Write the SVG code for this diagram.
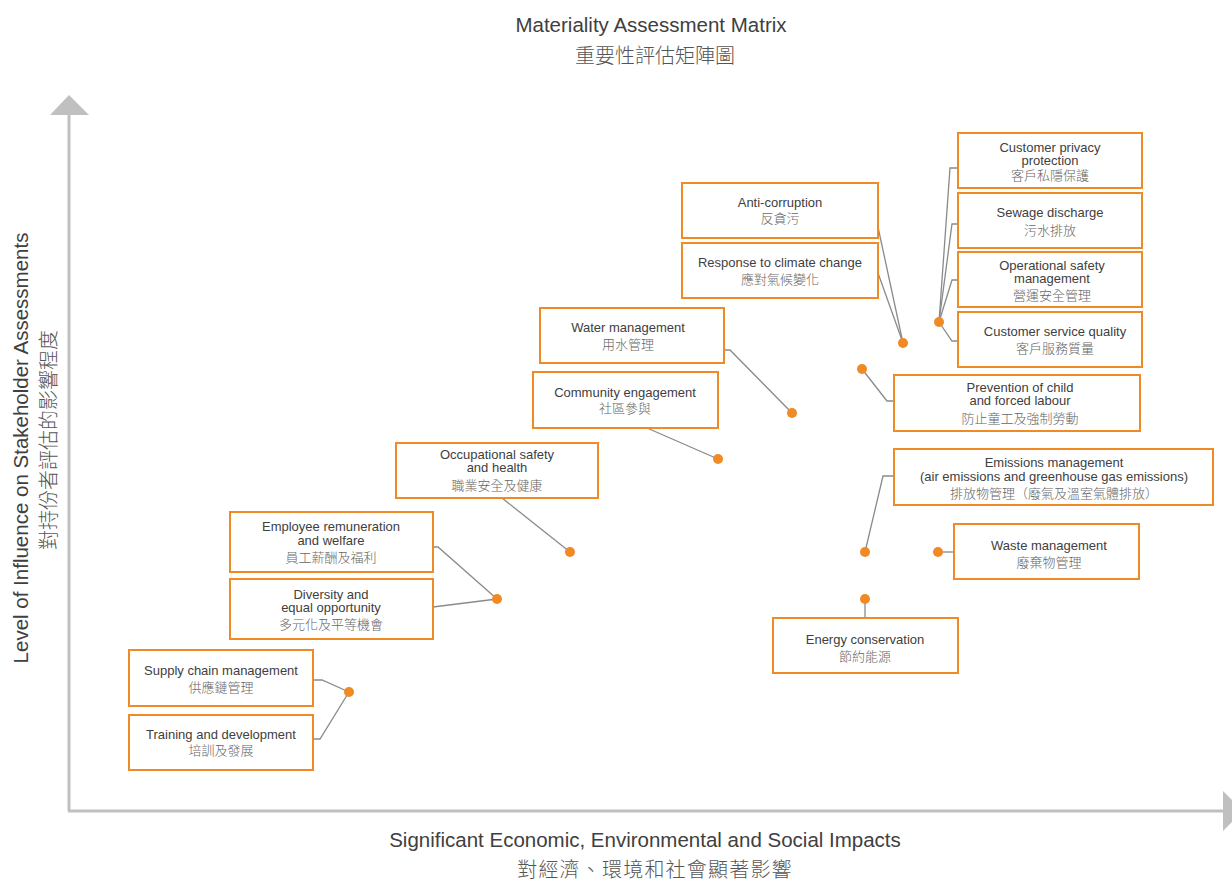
<svg xmlns="http://www.w3.org/2000/svg" width="1232" height="880" viewBox="0 0 1232 880">
<style>
.bx{fill:#fff;stroke:#f08a24;stroke-width:2}
.en{font-family:"Liberation Sans",Arial,sans-serif;font-size:13px;fill:#404040;text-anchor:middle}
.zh{font-family:"Liberation Sans","Noto Sans CJK TC",sans-serif;font-size:13px;font-weight:300;fill:#666;text-anchor:middle}
.ten{font-family:"Liberation Sans",Arial,sans-serif;font-size:20.5px;fill:#404040;text-anchor:middle}
.tzh{font-family:"Liberation Sans","Noto Sans CJK TC",sans-serif;font-size:20px;font-weight:300;fill:#555;text-anchor:middle}
.ln{fill:none;stroke:#8a8a8a;stroke-width:1.3}
.dot{fill:#f08a24}
.ax{stroke:#c0c0c0;stroke-width:3;fill:none}
.axh{fill:#c0c0c0}
</style>
<rect width="1232" height="880" fill="#fff"/>
<g id="title">
<text class="ten" x="651" y="32">Materiality Assessment Matrix</text>
<text class="tzh" x="655" y="63">重要性評估矩陣圖</text>
</g>
<g id="axes">
<line class="ax" x1="69" y1="112" x2="69" y2="811"/>
<polygon class="axh" points="69,95 89,115 50,115"/>
<line class="ax" x1="68" y1="811" x2="1225" y2="811"/>
<polygon class="axh" points="1223,791 1243,811 1223,831"/>
<text class="ten" x="645" y="847">Significant Economic, Environmental and Social Impacts</text>
<text class="tzh" x="655" y="877" letter-spacing="1.2">對經濟、環境和社會顯著影響</text>
<text class="ten" transform="translate(28,448) rotate(-90)">Level of Influence on Stakeholder Assessments</text>
<text class="tzh" transform="translate(56,440) rotate(-90)">對持份者評估的影響程度</text>
</g>
<g id="connectors">
<polyline class="ln" points="958,168 950,168 939,322"/>
<polyline class="ln" points="958,224 952,224 939,322"/>
<polyline class="ln" points="958,280 952,280 939,322"/>
<polyline class="ln" points="939,322 952,341 958,341"/>
<polyline class="ln" points="878,227 903,343"/>
<polyline class="ln" points="878,273 903,343"/>
<polyline class="ln" points="724,350 730,350 792,413"/>
<polyline class="ln" points="647,428 718,459"/>
<polyline class="ln" points="502,498 570,552"/>
<polyline class="ln" points="433,547 438,547 497,599"/>
<polyline class="ln" points="433,607 497,599"/>
<polyline class="ln" points="313,680 322,680 349,692"/>
<polyline class="ln" points="313,739 320,739 349,692"/>
<polyline class="ln" points="862,369 887,401 894,401"/>
<polyline class="ln" points="865,552 883,476 894,476"/>
<polyline class="ln" points="938,552 954,552"/>
<polyline class="ln" points="865,599 865,618"/>
<circle class="dot" cx="939" cy="322" r="5"/>
<circle class="dot" cx="903" cy="343" r="5"/>
<circle class="dot" cx="792" cy="413" r="5"/>
<circle class="dot" cx="718" cy="459" r="5"/>
<circle class="dot" cx="570" cy="552" r="5"/>
<circle class="dot" cx="497" cy="599" r="5"/>
<circle class="dot" cx="349" cy="692" r="5"/>
<circle class="dot" cx="862" cy="369" r="5"/>
<circle class="dot" cx="865" cy="552" r="5"/>
<circle class="dot" cx="938" cy="552" r="5"/>
<circle class="dot" cx="865" cy="599" r="5"/>
</g>
<g id="n-privacy">
<rect class="bx" x="958" y="133" width="184" height="55"/>
<text class="en" x="1050" y="152">Customer privacy</text>
<text class="en" x="1050" y="165">protection</text>
<text class="zh" x="1050" y="180">客戶私隱保護</text>
</g>
<g id="n-sewage">
<rect class="bx" x="958" y="193" width="184" height="55"/>
<text class="en" x="1050" y="217">Sewage discharge</text>
<text class="zh" x="1050" y="235">污水排放</text>
</g>
<g id="n-opsafety">
<rect class="bx" x="958" y="252" width="184" height="55"/>
<text class="en" x="1052" y="270">Operational safety</text>
<text class="en" x="1052" y="283">management</text>
<text class="zh" x="1052" y="300">營運安全管理</text>
</g>
<g id="n-service">
<rect class="bx" x="958" y="312" width="184" height="55"/>
<text class="en" x="1055" y="336">Customer service quality</text>
<text class="zh" x="1055" y="353">客戶服務質量</text>
</g>
<g id="n-anticorruption">
<rect class="bx" x="682" y="183" width="196" height="55"/>
<text class="en" x="780" y="207">Anti-corruption</text>
<text class="zh" x="780" y="223">反貪污</text>
</g>
<g id="n-climate">
<rect class="bx" x="682" y="243" width="196" height="55"/>
<text class="en" x="780" y="267">Response to climate change</text>
<text class="zh" x="780" y="284">應對氣候變化</text>
</g>
<g id="n-water">
<rect class="bx" x="540" y="308" width="184" height="55"/>
<text class="en" x="628" y="332">Water management</text>
<text class="zh" x="628" y="349">用水管理</text>
</g>
<g id="n-community">
<rect class="bx" x="533" y="372" width="185" height="56"/>
<text class="en" x="625" y="397">Community engagement</text>
<text class="zh" x="625" y="413">社區參與</text>
</g>
<g id="n-ohs">
<rect class="bx" x="396" y="443" width="202" height="55"/>
<text class="en" x="497" y="459">Occupational safety</text>
<text class="en" x="497" y="472">and health</text>
<text class="zh" x="497" y="490">職業安全及健康</text>
</g>
<g id="n-remuneration">
<rect class="bx" x="230" y="512" width="203" height="60"/>
<text class="en" x="331" y="531">Employee remuneration</text>
<text class="en" x="331" y="545">and welfare</text>
<text class="zh" x="331" y="562">員工薪酬及福利</text>
</g>
<g id="n-diversity">
<rect class="bx" x="230" y="579" width="203" height="60"/>
<text class="en" x="331" y="599">Diversity and</text>
<text class="en" x="331" y="612">equal opportunity</text>
<text class="zh" x="331" y="629">多元化及平等機會</text>
</g>
<g id="n-supply">
<rect class="bx" x="129" y="650" width="184" height="56"/>
<text class="en" x="221" y="675">Supply chain management</text>
<text class="zh" x="221" y="692">供應鏈管理</text>
</g>
<g id="n-training">
<rect class="bx" x="129" y="715" width="184" height="55"/>
<text class="en" x="221" y="739">Training and development</text>
<text class="zh" x="221" y="755">培訓及發展</text>
</g>
<g id="n-childlabour">
<rect class="bx" x="894" y="375" width="246" height="56"/>
<text class="en" x="1020" y="392">Prevention of child</text>
<text class="en" x="1020" y="405">and forced labour</text>
<text class="zh" x="1020" y="423">防止童工及強制勞動</text>
</g>
<g id="n-emissions">
<rect class="bx" x="894" y="449" width="319" height="56"/>
<text class="en" x="1054" y="467">Emissions management</text>
<text class="en" x="1054" y="481">(air emissions and greenhouse gas emissions)</text>
<text class="zh" x="1054" y="498">排放物管理（廢氣及溫室氣體排放）</text>
</g>
<g id="n-waste">
<rect class="bx" x="954" y="524" width="185" height="55"/>
<text class="en" x="1049" y="550">Waste management</text>
<text class="zh" x="1049" y="567">廢棄物管理</text>
</g>
<g id="n-energy">
<rect class="bx" x="773" y="618" width="185" height="55"/>
<text class="en" x="865" y="644">Energy conservation</text>
<text class="zh" x="865" y="661">節約能源</text>
</g>
</svg>
